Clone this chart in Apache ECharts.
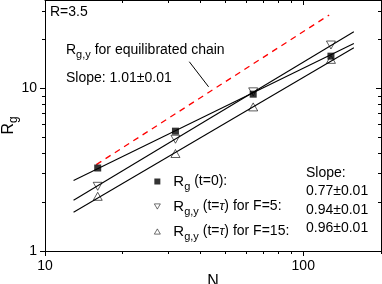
<!DOCTYPE html>
<html><head><meta charset="utf-8">
<script src="https://cdn.jsdelivr.net/npm/echarts@6/dist/echarts.min.js"></script>
<style>html,body{margin:0;padding:0;background:#fff}#c{width:382px;height:284px}</style>
</head><body><div id="c"></div>
<script>
// ---- data ----
const N = [16, 32, 64, 128];
const rgT0 = [3.24, 5.46, 9.22, 15.8];
const rgyF5 = [2.50, 4.87, 9.53, 18.5];
const rgyF15 = [2.17, 3.98, 7.70, 15.1];
const fitN = [12.9, 157];
const fitT0 = [2.71, 18.9];
const fitF5 = [2.05, 22.3];
const fitF15 = [1.73, 17.8];
const eqN = [15.8, 126];
const eqRgy = [3.40, 28.3];
const arrowFrom = [36.2, 14.6];
const arrowTo = [43.0, 10.23];
const xRange = [10, 200];
const yRange = [1, 35];
const xMajorTicks = [10, 100];
const xMinorTicks = [20, 30, 40, 50, 60, 70, 80, 90, 200];
const yMajorTicks = [1, 10];
const yMinorTicks = [2, 3, 4, 5, 6, 7, 8, 9, 20, 30];
const seriesNames = ['Rg (t=0):', 'Rg,y (t=τ) for F=5:', 'Rg,y (t=τ) for F=15:'];
const slopeLines = ['Slope:', '0.77±0.01', '0.94±0.01', '0.96±0.01'];
const eqLabel = 'Slope: 1.01±0.01';
const rLabel = 'R=3.5';

const FF = '"Liberation Sans", Arial, sans-serif';
const BLACK = '#000';
const zip = (a, b) => a.map((v, i) => [v, b[i]]);
const downTri = 'path://M0,0 L10,0 L5,8.7 Z';
const upTri = 'path://M5,0 L10,8.7 L0,8.7 Z';

function axisPair(kind, gridIndex, range, ticks, len, withLabel, extra) {
  const common = {
    type: 'log', logBase: 10, min: range[0], max: range[1], gridIndex: gridIndex,
    splitLine: { show: false }
  };
  return [
    Object.assign({}, common, {
      position: kind === 'x' ? 'bottom' : 'left',
      axisLine: { show: gridIndex === 0, lineStyle: { color: BLACK, width: 1 } },
      axisTick: { customValues: ticks, length: len, inside: false, lineStyle: { color: BLACK, width: 1 } },
      axisLabel: withLabel ? { customValues: ticks, fontSize: 14, fontFamily: FF, color: BLACK, margin: 8 } : { show: false }
    }, extra || {}),
    Object.assign({}, common, {
      position: kind === 'x' ? 'top' : 'right',
      axisLine: { show: gridIndex === 0, lineStyle: { color: BLACK, width: 1 } },
      axisTick: { customValues: ticks, length: len, inside: true, lineStyle: { color: BLACK, width: 1 } },
      axisLabel: { show: false }
    })
  ];
}

const gridRect = { left: 45, right: 1, top: 0, bottom: 33, outerBoundsMode: 'none', containLabel: false };

const xAxes = axisPair('x', 0, xRange, xMajorTicks, 5, true, {
  name: 'N', nameLocation: 'middle', nameGap: 23, nameMoveOverlap: false,
  nameTextStyle: { fontSize: 16, fontFamily: FF, color: BLACK }
}).concat(axisPair('x', 1, xRange, xMinorTicks, 3, false));

const yAxes = axisPair('y', 0, yRange, yMajorTicks, 5, true, {
  name: 'R{s|g}', nameLocation: 'middle', nameGap: 25, nameRotate: 90, nameMoveOverlap: false,
  nameTextStyle: {
    fontSize: 16, fontFamily: FF, color: BLACK,
    rich: { s: { fontSize: 12, fontFamily: FF, color: BLACK, padding: [11, 0, 0, 0] } }
  }
}).concat(axisPair('y', 1, yRange, yMinorTicks, 3, false));

const fitStyle = { color: BLACK, width: 1.1 };
function fitSeries(vals) {
  return { type: 'line', xAxisIndex: 0, yAxisIndex: 0, data: zip(fitN, vals), showSymbol: false, symbol: 'none',
    lineStyle: fitStyle, silent: true, animation: false, z: 2 };
}

const legendRich = {
  r: { fontSize: 15, fontFamily: FF, color: BLACK, padding: [0, 0, 0, 8] },
  s: { fontSize: 11, fontFamily: FF, color: BLACK, padding: [10, 0, 0, 0] },
  t: { fontSize: 14, fontFamily: FF, color: BLACK },
  tau: { fontSize: 13, fontFamily: FF, color: BLACK, fontStyle: 'italic' }
};
function legendFmt(name) {
  const m = name.match(/^R(g(?:,y)?) (.*)$/);
  const sub = m[1];
  const rest = m[2].split('τ');
  let txt = '{r|R}{s|' + sub + '}{t| ' + rest[0] + '}';
  if (rest.length > 1) txt += '{tau|τ}{t|' + rest[1] + '}';
  return txt;
}

const chart = echarts.init(document.getElementById('c'), null, { renderer: 'canvas' });
chart.setOption({
  animation: false,
  backgroundColor: '#fff',
  grid: [Object.assign({}, gridRect), Object.assign({}, gridRect)],
  xAxis: xAxes,
  yAxis: yAxes,
  legend: {
    orient: 'vertical', left: 149, top: 169, itemWidth: 6, itemHeight: 6, itemGap: 7,
    data: seriesNames, formatter: legendFmt, selectedMode: false,
    itemStyle: { borderWidth: 0.7 },
    textStyle: { rich: legendRich }
  },
  series: [
    fitSeries(fitT0), fitSeries(fitF5), fitSeries(fitF15),
    {
      type: 'line', data: zip(eqN, eqRgy), showSymbol: false, symbol: 'none', silent: true,
      lineStyle: { color: '#ff0000', width: 1.3, type: [6, 5] }, z: 2,
      markLine: {
        silent: true, symbol: ['none', 'arrow'], symbolSize: [0, 8], animation: false,
        label: { show: false }, lineStyle: { color: BLACK, type: 'solid', width: 1 },
        data: [[{ coord: arrowFrom }, { coord: arrowTo }]]
      }
    },
    {
      name: seriesNames[1], type: 'scatter', data: zip(N, rgyF5), symbol: downTri, symbolSize: [9, 8],
      itemStyle: { color: 'rgba(255,255,255,0)', borderColor: BLACK, borderWidth: 0.8 }, z: 3
    },
    {
      name: seriesNames[2], type: 'scatter', data: zip(N, rgyF15), symbol: upTri, symbolSize: [9, 8],
      itemStyle: { color: 'rgba(255,255,255,0)', borderColor: BLACK, borderWidth: 0.8 }, z: 3
    },
    {
      name: seriesNames[0], type: 'scatter', data: zip(N, rgT0), symbol: 'rect', symbolSize: 7,
      itemStyle: { color: BLACK }, z: 4
    }
  ],
  graphic: [
    { type: 'text', x: 50, y: 12, style: { text: rLabel, fontSize: 14, fontFamily: FF, fill: BLACK, verticalAlign: 'middle', textVerticalAlign: 'middle' } },
    { type: 'text', x: 66, y: 50, style: {
        text: '{r|R}{s|g,y}{t| for equilibrated chain}', verticalAlign: 'middle', textVerticalAlign: 'middle',
        rich: {
          r: { fontSize: 14, fontFamily: FF, fill: BLACK },
          s: { fontSize: 11, fontFamily: FF, fill: BLACK, padding: [10, 0, 0, 0] },
          t: { fontSize: 14, fontFamily: FF, fill: BLACK }
        } } },
    { type: 'text', x: 66, y: 78, style: { text: eqLabel, fontSize: 14, fontFamily: FF, fill: BLACK, verticalAlign: 'middle', textVerticalAlign: 'middle' } },
    { type: 'text', x: 306, y: 164, style: { text: slopeLines.join('\n'), fontSize: 14, lineHeight: 18.4, fontFamily: FF, fill: BLACK, verticalAlign: 'top', textVerticalAlign: 'top' } }
  ]
});
</script>
</body></html>
